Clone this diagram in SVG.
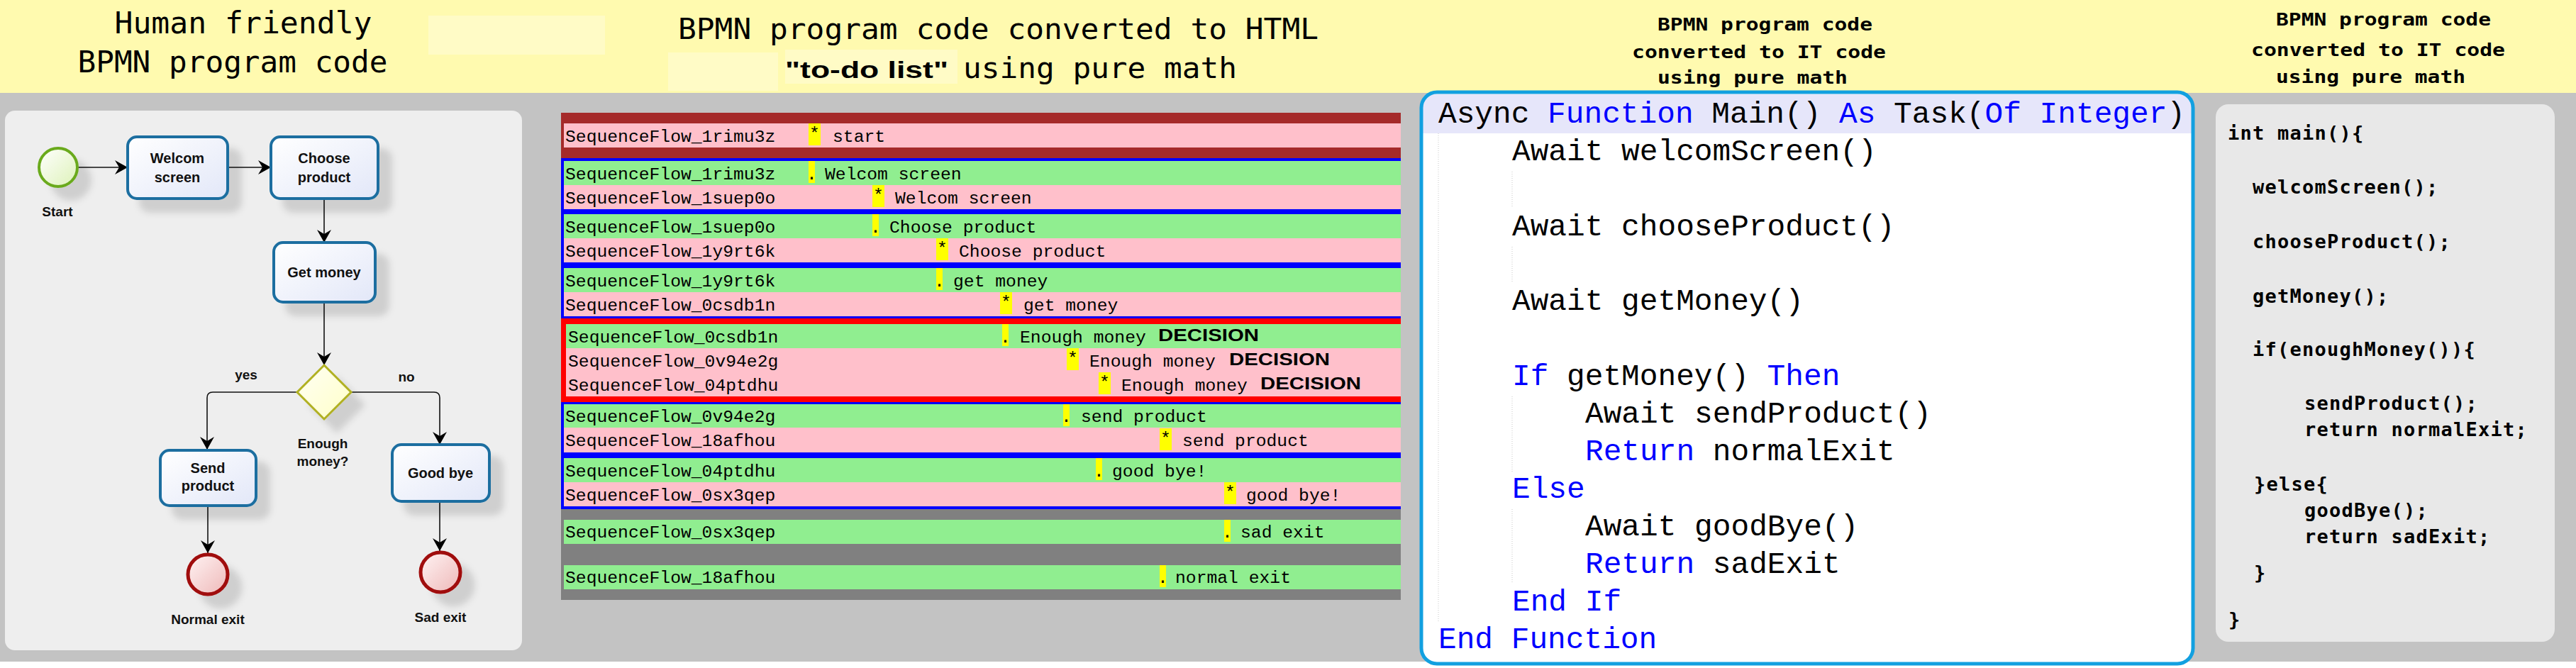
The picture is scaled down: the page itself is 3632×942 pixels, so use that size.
<svg xmlns="http://www.w3.org/2000/svg" width="3632" height="942" viewBox="0 0 3632 942">
<style>
.hdr{font-family:"DejaVu Sans Mono","Liberation Mono",monospace;fill:#000}
.lbl{font-family:"Liberation Sans",Arial,sans-serif;font-weight:bold;font-size:19px;fill:#111;text-anchor:middle}
.tl{font-family:"Liberation Sans",Arial,sans-serif;font-weight:bold;font-size:20px;fill:#111;text-anchor:middle}
.task{fill:url(#gTask);stroke:#1B6EA0;stroke-width:4}
.flow{fill:none;stroke:#111;stroke-width:1.6;marker-end:url(#arr)}
.row{font-family:"Liberation Mono","Courier New",monospace;font-size:24.7px;fill:#000}
.dec{font-family:"Liberation Sans",Arial,sans-serif;font-weight:bold;font-size:24px;fill:#000}
.pk{fill:#FFC0CB}
.gr{fill:#90EE90}
.mk{fill:#FFFF00}
.vb{font-family:"Liberation Mono","Courier New",monospace;font-size:42.8px;fill:#000}
.kw{fill:#0000FF}
.cc{font-family:"DejaVu Sans Mono","Liberation Mono",monospace;font-weight:bold;font-size:27px;letter-spacing:1.25px;fill:#000}
.t3{font-family:"DejaVu Sans Mono","Liberation Mono",monospace;font-weight:bold;font-size:25px;fill:#000}
.guide{stroke:#C8C8C8;stroke-width:1;stroke-dasharray:1 2}
</style>
<defs>
<linearGradient id="gTask" x1="0" y1="0" x2="1" y2="1"><stop offset="0" stop-color="#FFFFFF"/><stop offset="1" stop-color="#E2E7F8"/></linearGradient>
<linearGradient id="gStart" x1="0" y1="0" x2="1" y2="1"><stop offset="0" stop-color="#FFFFFF"/><stop offset="1" stop-color="#DDF2B8"/></linearGradient>
<linearGradient id="gEnd" x1="0" y1="0" x2="1" y2="1"><stop offset="0" stop-color="#FFF4F4"/><stop offset="1" stop-color="#EEB8B8"/></linearGradient>
<linearGradient id="gGw" x1="0" y1="0" x2="1" y2="1"><stop offset="0" stop-color="#FFFFF4"/><stop offset="1" stop-color="#FFFFC8"/></linearGradient>
<filter id="sh" x="-30%" y="-30%" width="190%" height="190%">
<feGaussianBlur in="SourceAlpha" stdDeviation="5"/>
<feOffset dx="18" dy="18" result="o"/>
<feFlood flood-color="#000" flood-opacity="0.13"/>
<feComposite in2="o" operator="in"/>
<feMerge><feMergeNode/><feMergeNode in="SourceGraphic"/></feMerge>
</filter>
<marker id="arr" markerUnits="userSpaceOnUse" viewBox="0 0 18 20" refX="18" refY="10" markerWidth="18" markerHeight="20" orient="auto">
<path d="M0,0 L18,10 L0,20 L6,10 Z" fill="#000"/>
</marker>
<clipPath id="vbclip"><rect x="2004" y="130" width="1088" height="806" rx="22"/></clipPath>
</defs>

<!-- backgrounds -->
<rect x="0" y="0" width="3632" height="942" fill="#FFFFFF"/>
<rect x="0" y="0" width="3632" height="131" fill="#FFFAAF"/>
<rect x="604" y="22" width="249" height="55" fill="#FFFBC6"/>
<rect x="942" y="74" width="155" height="54" fill="#FFFBC6"/>
<rect x="1107" y="70" width="243" height="48" fill="#FFFBC6"/>
<rect x="0" y="131" width="3632" height="802" fill="#C3C3C3"/>

<!-- Panel 1: BPMN -->
<g id="panel1-title">
<text class="hdr" x="343" y="47" font-size="42" text-anchor="middle" textLength="363" lengthAdjust="spacingAndGlyphs">Human friendly</text>
<text class="hdr" x="328" y="102" font-size="42" text-anchor="middle" textLength="437" lengthAdjust="spacingAndGlyphs">BPMN program code</text>
</g>
<rect x="7" y="156" width="729" height="761" rx="14" fill="#EEEEEE"/>

<g id="connectors">
<path class="flow" d="M110,236 L180,236"/>
<path class="flow" d="M321,236 L382,236"/>
<path class="flow" d="M457,280 L457,342"/>
<path class="flow" d="M457,426 L457,515"/>
<path class="flow" d="M419,553 L300,553 Q292,553 292,561 L292,634"/>
<path class="flow" d="M495,553 L612,553 Q620,553 620,561 L620,627"/>
<path class="flow" d="M293,713 L293,780"/>
<path class="flow" d="M620,707 L620,777"/>
<text class="lbl" x="347" y="535">yes</text>
<text class="lbl" x="573" y="538">no</text>
</g>

<g id="start">
<circle cx="82" cy="236" r="27" fill="url(#gStart)" stroke="#6AAA1E" stroke-width="4" filter="url(#sh)"/>
<text class="lbl" x="81" y="305">Start</text>
</g>
<g id="welcom-screen">
<rect class="task" x="180" y="193" width="141" height="87" rx="13" filter="url(#sh)"/>
<text class="tl" x="250" y="230">Welcom</text>
<text class="tl" x="250" y="257">screen</text>
</g>
<g id="choose-product">
<rect class="task" x="382" y="193" width="151" height="87" rx="13" filter="url(#sh)"/>
<text class="tl" x="457" y="230">Choose</text>
<text class="tl" x="457" y="257">product</text>
</g>
<g id="get-money">
<rect class="task" x="386" y="342" width="143" height="84" rx="13" filter="url(#sh)"/>
<text class="tl" x="457" y="391">Get money</text>
</g>
<g id="gateway">
<path d="M457,515 L495,553 L457,591 L419,553 Z" fill="url(#gGw)" stroke="#B0B020" stroke-width="3" filter="url(#sh)"/>
<text class="lbl" x="455" y="632">Enough</text>
<text class="lbl" x="455" y="657">money?</text>
</g>
<g id="send-product">
<rect class="task" x="226" y="635" width="135" height="78" rx="13" filter="url(#sh)"/>
<text class="tl" x="293" y="667">Send</text>
<text class="tl" x="293" y="692">product</text>
</g>
<g id="good-bye">
<rect class="task" x="553" y="627" width="137" height="80" rx="13" filter="url(#sh)"/>
<text class="tl" x="621" y="674">Good bye</text>
</g>
<g id="normal-exit">
<ellipse cx="293" cy="810" rx="28" ry="28" fill="url(#gEnd)" stroke="#A00A0A" stroke-width="5" filter="url(#sh)"/>
<text class="lbl" x="293" y="880">Normal exit</text>
</g>
<g id="sad-exit">
<ellipse cx="621" cy="807" rx="28" ry="28" fill="url(#gEnd)" stroke="#A00A0A" stroke-width="5" filter="url(#sh)"/>
<text class="lbl" x="621" y="877">Sad exit</text>
</g>

<!-- Panel 2: HTML to-do list -->
<g id="panel2-title">
<text class="hdr" x="956" y="55" font-size="40" textLength="903" lengthAdjust="spacingAndGlyphs">BPMN program code converted to HTML</text>
<text x="1107" y="110" font-family="Liberation Sans,Arial,sans-serif" font-weight="bold" font-size="34" textLength="230" lengthAdjust="spacingAndGlyphs">"to-do list"</text>
<text class="hdr" x="1358" y="110" font-size="40" textLength="386" lengthAdjust="spacingAndGlyphs">using pure math</text>
</g>
<g id="todo-list">
<!-- start group -->
<rect x="791" y="159" width="1184" height="64" fill="#A52A2A"/>
<rect class="pk" x="795" y="174" width="1180" height="34"/>
<rect class="mk" x="1140" y="174" width="17" height="31"/>
<text class="row" x="797" y="200">SequenceFlow_1rimu3z</text>
<text class="row" x="1148.5" y="196" text-anchor="middle">*</text>
<text class="row" x="1174" y="200">start</text>

<!-- blue groups -->
<rect x="791" y="223" width="1184" height="226" fill="#0000FF"/>
<rect class="gr" x="795" y="227" width="1180" height="34"/>
<rect class="pk" x="795" y="261" width="1180" height="34"/>
<rect class="gr" x="795" y="302" width="1180" height="34"/>
<rect class="pk" x="795" y="336" width="1180" height="34"/>
<rect class="gr" x="795" y="378" width="1180" height="34"/>
<rect class="pk" x="795" y="412" width="1180" height="34"/>

<rect class="mk" x="1140" y="227" width="9" height="31"/>
<text class="row" x="1144.5" y="253" text-anchor="middle">.</text>
<text class="row" x="797" y="253">SequenceFlow_1rimu3z</text>
<text class="row" x="1163" y="253">Welcom screen</text>

<rect class="mk" x="1230" y="261" width="17" height="31"/>
<text class="row" x="1238.5" y="283" text-anchor="middle">*</text>
<text class="row" x="797" y="287">SequenceFlow_1suep0o</text>
<text class="row" x="1262" y="287">Welcom screen</text>

<rect class="mk" x="1230" y="302" width="9" height="31"/>
<text class="row" x="1234.5" y="328" text-anchor="middle">.</text>
<text class="row" x="797" y="328">SequenceFlow_1suep0o</text>
<text class="row" x="1254" y="328">Choose product</text>

<rect class="mk" x="1320" y="336" width="17" height="31"/>
<text class="row" x="1328.5" y="358" text-anchor="middle">*</text>
<text class="row" x="797" y="362">SequenceFlow_1y9rt6k</text>
<text class="row" x="1352" y="362">Choose product</text>

<rect class="mk" x="1320" y="378" width="9" height="31"/>
<text class="row" x="1324.5" y="404" text-anchor="middle">.</text>
<text class="row" x="797" y="404">SequenceFlow_1y9rt6k</text>
<text class="row" x="1344" y="404">get money</text>

<rect class="mk" x="1410" y="412" width="17" height="31"/>
<text class="row" x="1418.5" y="434" text-anchor="middle">*</text>
<text class="row" x="797" y="438">SequenceFlow_0csdb1n</text>
<text class="row" x="1443" y="438">get money</text>

<!-- decision group -->
<rect x="791" y="449" width="1184" height="118" fill="#FF0000"/>
<rect class="gr" x="798" y="457" width="1177" height="34"/>
<rect class="pk" x="798" y="491" width="1177" height="34"/>
<rect class="pk" x="798" y="525" width="1177" height="34"/>

<rect class="mk" x="1413" y="457" width="9" height="31"/>
<text class="row" x="1417.5" y="483" text-anchor="middle">.</text>
<text class="row" x="801" y="483">SequenceFlow_0csdb1n</text>
<text class="row" x="1438" y="483">Enough money</text>
<text class="dec" x="1633" y="481" textLength="142" lengthAdjust="spacingAndGlyphs">DECISION</text>

<rect class="mk" x="1504" y="491" width="17" height="31"/>
<text class="row" x="1512.5" y="513" text-anchor="middle">*</text>
<text class="row" x="801" y="517">SequenceFlow_0v94e2g</text>
<text class="row" x="1536" y="517">Enough money</text>
<text class="dec" x="1733" y="515" textLength="142" lengthAdjust="spacingAndGlyphs">DECISION</text>

<rect class="mk" x="1549" y="525" width="17" height="31"/>
<text class="row" x="1557.5" y="547" text-anchor="middle">*</text>
<text class="row" x="801" y="551">SequenceFlow_04ptdhu</text>
<text class="row" x="1581" y="551">Enough money</text>
<text class="dec" x="1777" y="549" textLength="142" lengthAdjust="spacingAndGlyphs">DECISION</text>

<!-- blue groups after decision -->
<rect x="791" y="567" width="1184" height="151" fill="#0000FF"/>
<rect class="gr" x="795" y="570" width="1180" height="33"/>
<rect class="pk" x="795" y="603" width="1180" height="35"/>
<rect class="gr" x="795" y="646" width="1180" height="34"/>
<rect class="pk" x="795" y="680" width="1180" height="34"/>

<rect class="mk" x="1499" y="570" width="9" height="31"/>
<text class="row" x="1503.5" y="595" text-anchor="middle">.</text>
<text class="row" x="797" y="595">SequenceFlow_0v94e2g</text>
<text class="row" x="1524" y="595">send product</text>

<rect class="mk" x="1635" y="604" width="17" height="31"/>
<text class="row" x="1643.5" y="626" text-anchor="middle">*</text>
<text class="row" x="797" y="629">SequenceFlow_18afhou</text>
<text class="row" x="1667" y="629">send product</text>

<rect class="mk" x="1545" y="646" width="9" height="31"/>
<text class="row" x="1549.5" y="672" text-anchor="middle">.</text>
<text class="row" x="797" y="672">SequenceFlow_04ptdhu</text>
<text class="row" x="1568" y="672">good bye!</text>

<rect class="mk" x="1726" y="680" width="17" height="31"/>
<text class="row" x="1734.5" y="702" text-anchor="middle">*</text>
<text class="row" x="797" y="706">SequenceFlow_0sx3qep</text>
<text class="row" x="1757" y="706">good bye!</text>

<!-- exit group -->
<rect x="791" y="718" width="1184" height="128" fill="#808080"/>
<rect class="gr" x="795" y="733" width="1180" height="34"/>
<rect class="gr" x="795" y="797" width="1180" height="34"/>

<rect class="mk" x="1726" y="733" width="9" height="31"/>
<text class="row" x="1730.5" y="758" text-anchor="middle">.</text>
<text class="row" x="797" y="758">SequenceFlow_0sx3qep</text>
<text class="row" x="1749" y="758">sad exit</text>

<rect class="mk" x="1635" y="797" width="9" height="31"/>
<text class="row" x="1639.5" y="822" text-anchor="middle">.</text>
<text class="row" x="797" y="822">SequenceFlow_18afhou</text>
<text class="row" x="1657" y="822">normal exit</text>
</g>

<!-- Panel 3: VB code -->
<g id="panel3-title">
<text class="t3" x="2337" y="43" textLength="303" lengthAdjust="spacingAndGlyphs">BPMN program code</text>
<text class="t3" x="2301" y="82" textLength="358" lengthAdjust="spacingAndGlyphs">converted to IT code</text>
<text class="t3" x="2337" y="118" textLength="268" lengthAdjust="spacingAndGlyphs">using pure math</text>
</g>
<g id="vb-code">
<rect x="2004" y="130" width="1088" height="806" rx="22" fill="#FFFFFF"/>
<rect x="2004" y="133" width="1088" height="55" fill="#E6E6FA" clip-path="url(#vbclip)"/>
<line class="guide" x1="2028" y1="188" x2="2028" y2="877"/>
<line class="guide" x1="2132" y1="242" x2="2132" y2="293"/>
<line class="guide" x1="2132" y1="348" x2="2132" y2="398"/>
<line class="guide" x1="2132" y1="559" x2="2132" y2="665"/>
<line class="guide" x1="2132" y1="718" x2="2132" y2="823"/>
<text class="vb" x="2028" y="173">Async <tspan class="kw">Function</tspan> Main() <tspan class="kw">As</tspan> Task(<tspan class="kw">Of Integer</tspan>)</text>
<text class="vb" x="2132" y="226">Await welcomScreen()</text>
<text class="vb" x="2132" y="332">Await chooseProduct()</text>
<text class="vb" x="2132" y="437">Await getMoney()</text>
<text class="vb" x="2132" y="543"><tspan class="kw">If</tspan> getMoney() <tspan class="kw">Then</tspan></text>
<text class="vb" x="2235" y="596">Await sendProduct()</text>
<text class="vb" x="2235" y="649"><tspan class="kw">Return</tspan> normalExit</text>
<text class="vb kw" x="2132" y="702">Else</text>
<text class="vb" x="2235" y="755">Await goodBye()</text>
<text class="vb" x="2235" y="808"><tspan class="kw">Return</tspan> sadExit</text>
<text class="vb kw" x="2132" y="861">End If</text>
<text class="vb kw" x="2028" y="914">End Function</text>
<rect x="2004" y="130" width="1088" height="806" rx="22" fill="none" stroke="#12A0E0" stroke-width="5"/>
</g>

<!-- Panel 4: C code -->
<g id="panel4-title">
<text class="t3" x="3209" y="36" textLength="303" lengthAdjust="spacingAndGlyphs">BPMN program code</text>
<text class="t3" x="3174" y="79" textLength="358" lengthAdjust="spacingAndGlyphs">converted to IT code</text>
<text class="t3" x="3209" y="117" textLength="267" lengthAdjust="spacingAndGlyphs">using pure math</text>
</g>
<g id="c-code">
<rect x="3124" y="147" width="478" height="758" rx="18" fill="#E8E8E8"/>
<text class="cc" x="3141" y="197">int main(){</text>
<text class="cc" x="3176" y="273">welcomScreen();</text>
<text class="cc" x="3176" y="350">chooseProduct();</text>
<text class="cc" x="3176" y="427">getMoney();</text>
<text class="cc" x="3176" y="502">if(enoughMoney()){</text>
<text class="cc" x="3249" y="578">sendProduct();</text>
<text class="cc" x="3249" y="615">return normalExit;</text>
<text class="cc" x="3178" y="692">}else{</text>
<text class="cc" x="3249" y="729">goodBye();</text>
<text class="cc" x="3249" y="766">return sadExit;</text>
<text class="cc" x="3178" y="817">}</text>
<text class="cc" x="3142" y="883">}</text>
</g>
</svg>
